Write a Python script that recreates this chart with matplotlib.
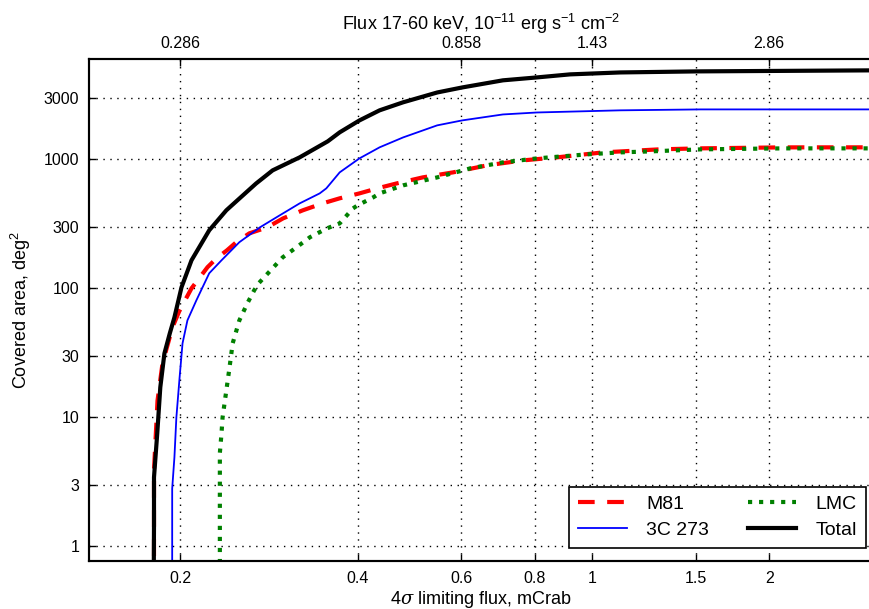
"""
Sky coverage vs. limiting flux for the M81, 3C 273 and LMC fields.
"""
import numpy as np
import matplotlib
matplotlib.use("Agg")
import matplotlib.pyplot as plt
from matplotlib.ticker import FixedLocator, FixedFormatter, NullLocator

plt.rcParams["font.family"] = ["Liberation Sans", "DejaVu Sans"]
plt.rcParams["mathtext.fontset"] = "custom"
plt.rcParams["mathtext.rm"] = "Liberation Sans"
plt.rcParams["mathtext.it"] = "DejaVu Serif:italic"

# 4 sigma limiting flux (mCrab) vs covered area (deg^2)
m81_flux = [0.1805, 0.1805, 0.183, 0.1866, 0.194, 0.1995, 0.209, 0.216, 0.2225, 0.2305,
            0.240, 0.249, 0.262, 0.281, 0.299, 0.323, 0.349, 0.373, 0.403, 0.432,
            0.466, 0.516, 0.581, 0.663, 0.763, 0.871, 1.044, 1.30, 1.52, 2.11, 3.0]
m81_area = [0.5, 3.9, 13.5, 26.2, 49.9, 67.5, 100, 122, 146, 171,
            197, 228, 267, 297, 349, 403, 456, 499, 545, 596,
            651, 725, 793, 898, 982, 1036, 1133, 1196, 1217, 1239, 1240]

c273_flux = [0.1938, 0.1938, 0.1955, 0.197, 0.1995, 0.2018, 0.2057, 0.213, 0.224, 0.235,
             0.252, 0.273, 0.295, 0.319, 0.345, 0.354, 0.361, 0.373, 0.403, 0.436,
             0.478, 0.546, 0.602, 0.706, 0.807, 1.117, 1.53, 3.0]
c273_area = [0.5, 2.8, 4.9, 10, 20.4, 37.5, 56.5, 80.7, 131, 165,
             228, 297, 368, 456, 545, 596, 663, 793, 1018, 1240,
             1480, 1835, 2005, 2230, 2310, 2400, 2440, 2440]

lmc_flux = [0.2335, 0.2335, 0.235, 0.236, 0.2395, 0.2425, 0.2455, 0.252, 0.260, 0.267,
            0.2715, 0.2985, 0.315, 0.332, 0.355, 0.373, 0.393, 0.400, 0.425, 0.436,
            0.478, 0.546, 0.621, 0.706, 0.807, 0.982, 1.117, 1.256, 1.53, 2.11, 3.0]
lmc_area = [0.5, 5.3, 7.5, 10, 16.2, 24.4, 37.5, 56.5, 76.6, 96.5,
            109, 174, 208, 249, 292, 319, 417, 440, 507, 545,
            629, 725, 851, 948, 1018, 1094, 1133, 1153, 1196, 1217, 1217]

total_flux = [0.1803, 0.1805, 0.1805, 0.1828, 0.185, 0.188, 0.192, 0.1955, 0.201, 0.209,
              0.224, 0.2395, 0.250, 0.269, 0.287, 0.319, 0.351, 0.356, 0.373, 0.403,
              0.436, 0.478, 0.546, 0.602, 0.706, 0.807, 0.918, 1.117, 1.51, 3.0]
total_area = [0.5, 1.46, 3.43, 7.5, 17.1, 31.3, 44.8, 59.6, 102, 165,
              282, 403, 481, 650, 822, 1037, 1330, 1380, 1620, 2005,
              2400, 2770, 3300, 3610, 4100, 4320, 4560, 4720, 4810, 4900]

x_ticks = [0.2, 0.4, 0.6, 0.8, 1, 1.5, 2]
x_tick_labels = ["0.2", "0.4", "0.6", "0.8", "1", "1.5", "2"]
y_ticks = [1, 3, 10, 30, 100, 300, 1000, 3000]
y_tick_labels = ["1", "3", "10", "30", "100", "300", "1000", "3000"]
top_ticks = [0.2, 0.6, 1, 2]
top_tick_labels = ["0.286", "0.858", "1.43", "2.86"]


def main():
    fig = plt.figure(figsize=(8.7, 6.09), dpi=100)
    ax = fig.add_axes([89 / 870, 48 / 609, 784 / 870, 502 / 609])

    ax.plot(m81_flux, m81_area, color="red", ls="--", lw=3, dashes=(4, 3), label="M81")
    ax.plot(c273_flux, c273_area, color="blue", ls="-", lw=1.3, label="3C 273")
    ax.plot(lmc_flux, lmc_area, color="green", ls=":", lw=3, label="LMC")
    ax.plot(total_flux, total_area, color="black", ls="-", lw=3, label="Total")

    ax.set_xscale("log")
    ax.set_yscale("log")
    ax.set_xlim(0.14, 3.0)
    ax.set_ylim(0.77, 6000)

    ax.xaxis.set_major_locator(FixedLocator(x_ticks))
    ax.xaxis.set_major_formatter(FixedFormatter(x_tick_labels))
    ax.xaxis.set_minor_locator(NullLocator())
    ax.yaxis.set_major_locator(FixedLocator(y_ticks))
    ax.yaxis.set_major_formatter(FixedFormatter(y_tick_labels))
    ax.yaxis.set_minor_locator(NullLocator())
    ax.tick_params(direction="in", length=5, width=1, labelsize=11.5, pad=7)
    ax.tick_params(axis="x", top=False)

    ax.grid(True, color="black", ls=(0, (1, 4)), lw=1)
    for sp in ax.spines.values():
        sp.set_linewidth(1.5)

    ax.set_xlabel(r"4$\sigma$ limiting flux, mCrab", fontsize=13, labelpad=2)
    ax.set_ylabel(r"Covered area, deg$^2$", fontsize=13, labelpad=8)

    # top axis: same positions, labelled in erg/s/cm2
    ax_top = ax.twiny()
    ax_top.set_xscale("log")
    ax_top.set_xlim(ax.get_xlim())
    ax_top.xaxis.set_major_locator(FixedLocator(top_ticks))
    ax_top.xaxis.set_major_formatter(FixedFormatter(top_tick_labels))
    ax_top.xaxis.set_minor_locator(NullLocator())
    ax_top.tick_params(direction="in", length=5, width=1, labelsize=11.5, pad=6)
    ax_top.set_xlabel(r"Flux 17-60 keV, $10^{-11}$ erg s$^{-1}$ cm$^{-2}$", fontsize=13, labelpad=4)
    for sp in ax_top.spines.values():
        sp.set_linewidth(1.5)

    handles, labels = ax.get_legend_handles_labels()
    leg = ax.legend(handles, labels, loc="lower right", ncol=2, fontsize=14,
                    bbox_to_anchor=(777 / 784, 13 / 502), borderaxespad=0,
                    fancybox=False, framealpha=1, edgecolor="black",
                    handlelength=2.5, columnspacing=2.0, borderpad=0.45,
                    handletextpad=1.0, labelspacing=0.45)
    leg.get_frame().set_linewidth(1.2)

    fig.savefig("out.png", dpi=100)


if __name__ == "__main__":
    main()
